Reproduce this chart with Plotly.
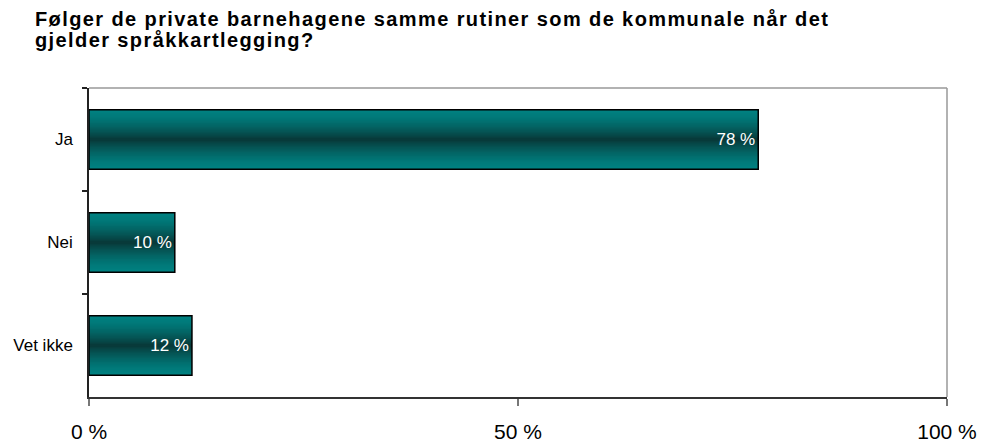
import plotly.graph_objects as go

categories = ["Ja", "Nei", "Vet ikke"]
values = [78, 10, 12]
labels = ["78 %", "10 %", "12 %"]
x_ticks = [0, 50, 100]
x_ticklabels = ["0 %", "50 %", "100 %"]
title_lines = [
    "Følger de private barnehagene samme rutiner som de kommunale når det",
    "gjelder språkkartlegging?",
]

BAR_W = 0.58
N = 24
edge = (0, 128, 128)
center = (8, 58, 58)

fig = go.Figure()
for k in range(N):
    t = k / (N - 1)
    f = t ** 1.6
    c = tuple(round(edge[i] + (center[i] - edge[i]) * f) for i in range(3))
    w = BAR_W * (1 - k / N)
    fig.add_trace(go.Bar(
        y=categories, x=values, orientation="h",
        width=w, marker=dict(color=f"rgb{c}", line=dict(width=0)),
        hoverinfo="skip", showlegend=False,
    ))

fig.add_trace(go.Bar(
    y=categories, x=values, orientation="h", width=BAR_W,
    marker=dict(color="rgba(0,0,0,0)", line=dict(color="black", width=1.5)),
    text=labels, textposition="inside", insidetextanchor="end",
    textfont=dict(color="white", size=17, family="Liberation Sans, Arial"),
    showlegend=False, cliponaxis=False,
))

PLOT_L, PLOT_T, PLOT_W, PLOT_H = 89, 88, 858, 309

def py(pix):
    return 1 - (pix - PLOT_T) / PLOT_H

fig.update_layout(
    width=983, height=443,
    barmode="overlay",
    paper_bgcolor="white", plot_bgcolor="white",
    margin=dict(l=89, r=36, t=88, b=46, autoexpand=False),
    font=dict(family="Liberation Sans, Arial", color="black"),
    annotations=[
        dict(text=title_lines[0], showarrow=False, align="left",
             xref="paper", yref="paper", x=(33 - PLOT_L) / PLOT_W, xanchor="left",
             y=py(19), yanchor="middle",
             font=dict(size=20, family="Liberation Sans, Arial", color="black", weight="bold")),
        dict(text=title_lines[1], showarrow=False, align="left",
             xref="paper", yref="paper", x=(33 - PLOT_L) / PLOT_W, xanchor="left",
             y=py(40), yanchor="middle",
             font=dict(size=20, family="Liberation Sans, Arial", color="black", weight="bold")),
    ],
    xaxis=dict(
        range=[0, 100], tickvals=x_ticks, ticktext=x_ticklabels,
        showgrid=False, zeroline=False,
        showline=True, linecolor="#333333", linewidth=1.5,
        ticks="outside", ticklen=7, tickcolor="#777777", tickwidth=1.5,
        tickfont=dict(size=21), ticklabelstandoff=8,
    ),
    yaxis=dict(
        categoryorder="array", categoryarray=categories, autorange="reversed",
        showgrid=False, zeroline=False,
        showline=True, linecolor="#222222", linewidth=1.5,
        ticks="outside", ticklen=5, tickcolor="#222222", tickwidth=1.5,
        tickson="boundaries", tickfont=dict(size=17), ticklabelstandoff=11,
    ),
    shapes=[
        dict(type="line", xref="paper", yref="paper", x0=0, x1=1, y0=1, y1=1,
             line=dict(color="#999999", width=1.5)),
        dict(type="line", xref="paper", yref="paper", x0=1, x1=1, y0=0, y1=1,
             line=dict(color="#999999", width=1.5)),
    ],
)

post = (
    "document.body.style.margin='0px';"
    "document.querySelectorAll('.annotation-text').forEach(function(e){e.style.letterSpacing='1.4px';});"
)
fig.write_html("out.html", post_script=post, config={"displayModeBar": False})
